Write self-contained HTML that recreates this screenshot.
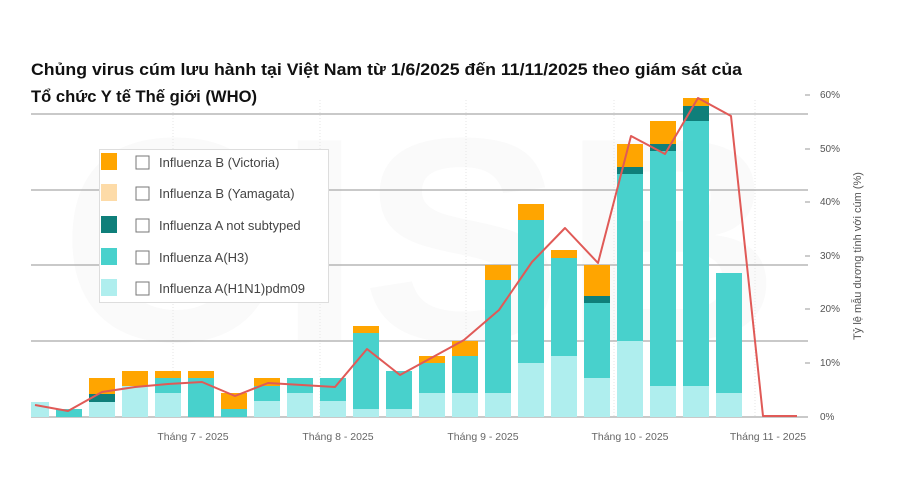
<!DOCTYPE html>
<html><head><meta charset="utf-8"><style>
html,body{margin:0;padding:0;background:#fff;}
svg{display:block;font-family:"Liberation Sans","DejaVu Sans",sans-serif;}
</style></head><body>
<svg id="s" width="900" height="500" viewBox="0 0 900 500">
<rect width="900" height="500" fill="#fff"/>
<text x="60" y="340" font-size="290" font-weight="bold" fill="#fafafa" textLength="720" lengthAdjust="spacingAndGlyphs">CISB</text>
<text x="31" y="75" font-size="17" font-weight="bold" fill="#111" textLength="711" lengthAdjust="spacingAndGlyphs">Chủng virus cúm lưu hành tại Việt Nam từ 1/6/2025 đến 11/11/2025 theo giám sát của</text>
<text x="31" y="102" font-size="17" font-weight="bold" fill="#111" textLength="226" lengthAdjust="spacingAndGlyphs">Tổ chức Y tế Thế giới (WHO)</text>
<g stroke="#e6e6e6" stroke-dasharray="1,2">
<line x1="173" y1="100" x2="173" y2="417"/><line x1="320" y1="100" x2="320" y2="417"/><line x1="466" y1="100" x2="466" y2="417"/><line x1="614" y1="100" x2="614" y2="417"/><line x1="755" y1="100" x2="755" y2="417"/>
</g>
<g stroke="#a9a9a9" stroke-width="1.3">
<line x1="31" y1="114" x2="808" y2="114"/><line x1="31" y1="190" x2="808" y2="190"/><line x1="31" y1="265" x2="808" y2="265"/><line x1="31" y1="341" x2="808" y2="341"/><line x1="31" y1="417" x2="808" y2="417"/>
</g>
<g id="bars"></g>
<polyline fill="none" stroke="#e05a57" stroke-width="2" stroke-linejoin="round" points="35,405 68,411 102,392 135,387 168,384 202,382 235,396 268,383 302,385 335,387 367,349 400,375 433,357 464,340 499,310 532,262 565,228 598,263 631,136 665,154 698,98 731,116 763,416 797,416"/>
<g font-size="10" fill="#555">
<text x="820" y="98">60%</text><text x="820" y="152">50%</text><text x="820" y="205">40%</text><text x="820" y="259">30%</text><text x="820" y="312">20%</text><text x="820" y="366">10%</text><text x="820" y="420">0%</text>
</g>
<g stroke="#999"><line x1="805" y1="95" x2="810" y2="95"/><line x1="805" y1="149" x2="810" y2="149"/><line x1="805" y1="202" x2="810" y2="202"/><line x1="805" y1="256" x2="810" y2="256"/><line x1="805" y1="309" x2="810" y2="309"/><line x1="805" y1="363" x2="810" y2="363"/></g>
<text transform="translate(861,256) rotate(-90)" text-anchor="middle" font-size="11" fill="#555">Tỷ lệ mẫu dương tính với cúm (%)</text>
<g font-size="10.5" fill="#666" text-anchor="middle">
<text x="193" y="440">Tháng 7 - 2025</text><text x="338" y="440">Tháng 8 - 2025</text><text x="483" y="440">Tháng 9 - 2025</text><text x="630" y="440">Tháng 10 - 2025</text><text x="768" y="440">Tháng 11 - 2025</text>
</g>
<rect x="99.5" y="149.5" width="229" height="153" fill="#fff" stroke="#ddd"/>
<g font-size="13" fill="#444">
<rect x="101" y="153" width="16" height="17" fill="#FFA500"/><rect x="136" y="156" width="13" height="13" fill="#fff" stroke="#777"/><text x="159" y="167">Influenza B (Victoria)</text>
<rect x="101" y="184" width="16" height="17" fill="#FDDBA8"/><rect x="136" y="187" width="13" height="13" fill="#fff" stroke="#777"/><text x="159" y="198">Influenza B (Yamagata)</text>
<rect x="101" y="216" width="16" height="17" fill="#0F7F7A"/><rect x="136" y="219" width="13" height="13" fill="#fff" stroke="#777"/><text x="159" y="230">Influenza A not subtyped</text>
<rect x="101" y="248" width="16" height="17" fill="#48D1CC"/><rect x="136" y="251" width="13" height="13" fill="#fff" stroke="#777"/><text x="159" y="262">Influenza A(H3)</text>
<rect x="101" y="279" width="16" height="17" fill="#AFEEEE"/><rect x="136" y="282" width="13" height="13" fill="#fff" stroke="#777"/><text x="159" y="293">Influenza A(H1N1)pdm09</text>
</g>
</svg>
<script>
var B=417,d=[
[31,18,402,402,402,402],[56,26,417,409,409,409],[89,26,402,402,394,378],[122,26,386,386,386,371],
[155,26,393,378,378,371],[188,26,417,378,378,371],[221,26,417,409,409,393],[254,26,401,386,386,378],
[287,26,393,378,378,378],[320,26,401,378,378,378],[353,26,409,333,333,326],[386,26,409,371,371,371],
[419,26,393,363,363,356],[452,26,393,356,356,341],[485,26,393,280,280,265],[518,26,363,220,220,204],
[551,26,356,258,258,250],[584,26,378,303,296,265],[617,26,341,174,167,144],[650,26,386,151,144,121],
[683,26,386,121,106,98],[716,26,393,273,273,273]];
var c=["#AFEEEE","#48D1CC","#0F7F7A","#FFA500"],g=document.getElementById("bars"),h="";
d.forEach(function(r){var prev=B;for(var i=0;i<4;i++){var t=r[2+i];if(prev-t>0)h+='<rect x="'+r[0]+'" y="'+t+'" width="'+r[1]+'" height="'+(prev-t)+'" fill="'+c[i]+'"/>';prev=t;}});
g.innerHTML=h;
</script>
</body></html>
